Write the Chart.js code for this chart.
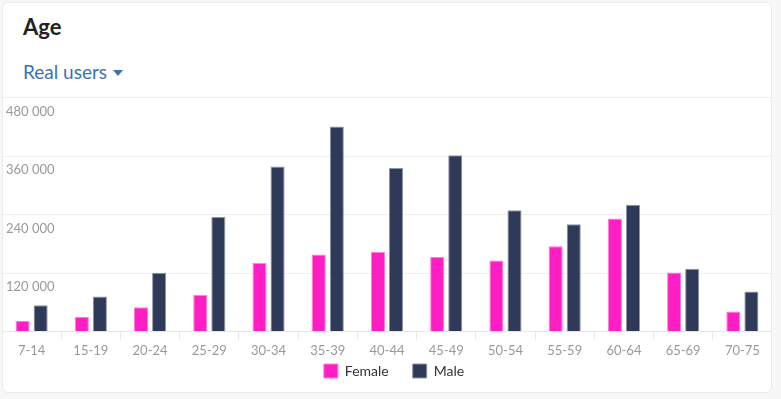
<!DOCTYPE html>
<html>
<head>
<meta charset="utf-8">
<script src="https://cdn.jsdelivr.net/npm/chart.js@4.4.1/dist/chart.umd.min.js"></script>
<style>
  html,body{margin:0;padding:0;background:#f7f7f8;width:781px;height:399px;overflow:hidden;font-family:Lato,"Noto Sans",sans-serif;}
  #card{position:absolute;left:2px;top:2px;width:768px;height:389px;background:#fff;border:1px solid #ebebeb;border-radius:6px;}
  #title{position:absolute;left:20px;top:10px;font-size:22px;font-weight:700;color:#222;}
  #sub{position:absolute;left:20px;top:57px;font-size:19px;color:#3a72b4;}
  #caret{display:inline-block;width:0;height:0;border-left:5px solid transparent;border-right:5px solid transparent;border-top:6px solid #3a72b4;vertical-align:middle;margin-left:6px;margin-top:-3px;}
  #sep{position:absolute;left:0;top:94px;width:768px;height:1px;background:#ececec;}
  #wrap{position:absolute;left:2px;top:86px;width:770px;height:325px;}
</style>
</head>
<body>
<div id="card">
  <div id="title">Age</div>
  <div id="sub">Real users<span id="caret"></span></div>
  <div id="sep"></div>
</div>
<div id="wrap"><canvas id="c"></canvas></div>
<script>
const categories = ["7-14","15-19","20-24","25-29","30-34","35-39","40-44","45-49","50-54","55-59","60-64","65-69","70-75"];
const female = [22000,29500,49500,75000,140500,158000,163000,153000,145500,175000,232000,121000,41000];
const male = [53500,71500,120500,235000,339000,421000,336000,362000,249000,220000,260000,128500,82000];
const yTicks = [0,120000,240000,360000,480000];

function fmt(v){ if(v===0) return ''; return String(v).replace(/\B(?=(\d{3})+(?!\d))/g,' '); }

const legendShift = {
  id: 'legendShift',
  afterLayout(chart){
    const lg = chart.legend;
    if (lg) { lg.top -= 23; lg.bottom -= 23; lg.left += 7; lg.right += 7; }
  }
};

new Chart(document.getElementById('c'), {
  type: 'bar',
  data: {
    labels: categories,
    datasets: [
      {label:'Female', data: female, backgroundColor:'#ff1ec3', borderColor:'#ff7ddc', borderWidth:1},
      {label:'Male', data: male, backgroundColor:'#2e3a57', borderColor:'#8c95aa', borderWidth:1}
    ]
  },
  options: {
    responsive: true,
    maintainAspectRatio: false,
    animation: false,
    layout: {padding: {top: 3, left: 0, right: 0, bottom: 0}},
    datasets: {bar: {categoryPercentage: 0.61, barPercentage: 0.78}},
    scales: {
      x: {
        offset: true,
        grid: {display: true, drawOnChartArea: false, drawTicks: true, tickLength: 8, color: '#e6e6e6'},
        border: {color: '#e6e6e6'},
        ticks: {color: '#999', font: {family: 'Lato', size: 13}, padding: 4, maxRotation: 0, autoSkip: false}
      },
      y: {
        min: 0, max: 480000,
        afterBuildTicks: (s) => { s.ticks = yTicks.map(v => ({value: v})); },
        afterFit: (s) => { s.width = 0; },
        grid: {color: '#eeeeee', drawTicks: false},
        border: {display: false},
        ticks: {mirror: true, labelOffset: 14, padding: 4, color: '#999', font: {family: 'Lato', size: 13}, callback: (v) => fmt(v)}
      }
    },
    plugins: {
      legend: {
        position: 'bottom',
        labels: {boxWidth: 14, boxHeight: 14, padding: 24, color: '#333', font: {family: 'Lato', size: 14}}
      },
      tooltip: {enabled: false}
    }
  },
  plugins: [legendShift]
});
</script>
</body>
</html>
